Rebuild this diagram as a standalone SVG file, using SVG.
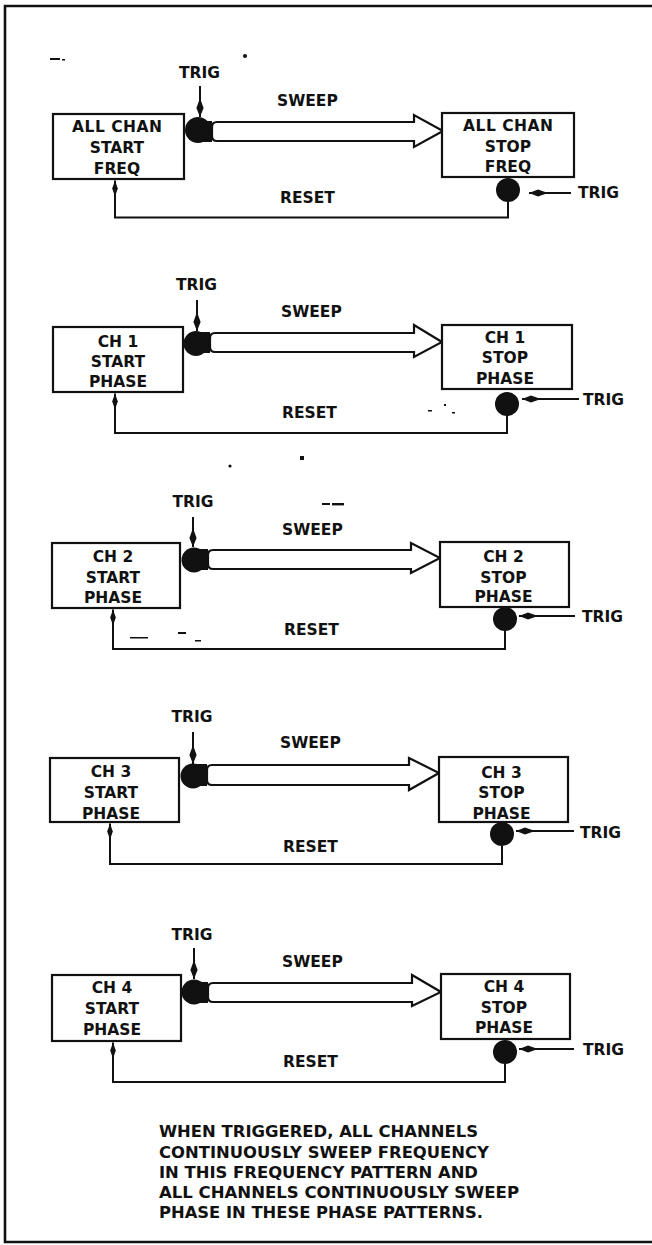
<svg xmlns="http://www.w3.org/2000/svg" width="652" height="1245" viewBox="0 0 652 1245">
<style>
text{font-family:"DejaVu Sans","Liberation Sans",sans-serif;font-weight:bold;fill:#111;}
.lbl{font-size:15.5px;}
.bx{font-size:15.5px;text-anchor:middle;}
.tt{font-size:15.5px;text-anchor:middle;}
.note{font-size:16px;}
.box{fill:#fff;stroke:#111;stroke-width:2.2;}
.dot{fill:#111;}
.shaft{fill:#fff;stroke:#111;stroke-width:2.2;stroke-linejoin:miter;}
.wire{fill:none;stroke:#111;stroke-width:2;}
.frame{fill:none;stroke:#111;stroke-width:2.6;}
</style>
<defs>
<marker id="spin" markerUnits="userSpaceOnUse" viewBox="-22 -5 24 10" refX="0" refY="0" markerWidth="24" markerHeight="10" orient="auto">
<path d="M0,0 L-9,-3.6 L-19,0 L-9,3.6 Z" fill="#111"/>
</marker>
<marker id="spinS" markerUnits="userSpaceOnUse" viewBox="-18 -5 20 10" refX="0" refY="0" markerWidth="20" markerHeight="10" orient="auto">
<path d="M0,0 L-8,-2.8 L-16,0 L-8,2.8 Z" fill="#111"/>
</marker>
</defs>

<g id="frame">
<path class="frame" d="M652,6 H5 V1242 H652"/>
</g>

<g id="specks" fill="#111">
<rect x="50" y="58" width="10" height="2"/><rect x="62" y="59" width="3" height="1.5"/>
<circle cx="245" cy="56" r="2"/>
<circle cx="230" cy="466" r="1.6"/><rect x="300" y="456" width="4" height="4"/>
<rect x="322" y="503" width="8" height="2"/><rect x="332" y="503" width="12" height="2.4"/>
<rect x="428" y="410" width="4" height="1.5"/><rect x="444" y="404" width="2" height="2"/><rect x="452" y="412" width="3" height="1.5"/>
<rect x="130" y="637" width="18" height="1.5"/><rect x="178" y="632" width="8" height="2"/><rect x="195" y="640" width="6" height="1.5"/>
</g>

<g id="connectors">
<!-- block 1 -->
<line class="wire" x1="200" y1="86" x2="200" y2="117" marker-end="url(#spin)"/>
<line class="wire" x1="571" y1="193" x2="529" y2="193" marker-end="url(#spin)"/>
<polyline class="wire" points="508,202 508,217.5 115,217.5 115,180.5" marker-end="url(#spinS)"/>
<!-- block 2 -->
<line class="wire" x1="197" y1="300" x2="197" y2="331" marker-end="url(#spin)"/>
<line class="wire" x1="579" y1="399" x2="522" y2="399" marker-end="url(#spin)"/>
<polyline class="wire" points="507,416 507,433 115,433 115,393.5" marker-end="url(#spinS)"/>
<!-- block 3 -->
<line class="wire" x1="193" y1="517" x2="193" y2="547" marker-end="url(#spin)"/>
<line class="wire" x1="575" y1="616" x2="519" y2="616" marker-end="url(#spin)"/>
<polyline class="wire" points="505,631 505,649 113,649 113,609.5" marker-end="url(#spinS)"/>
<!-- block 4 -->
<line class="wire" x1="193" y1="732" x2="193" y2="764" marker-end="url(#spin)"/>
<line class="wire" x1="574" y1="831" x2="516" y2="831" marker-end="url(#spin)"/>
<polyline class="wire" points="502,846 502,864 110,864 110,823.5" marker-end="url(#spinS)"/>
<!-- block 5 -->
<line class="wire" x1="194" y1="948" x2="194" y2="979" marker-end="url(#spin)"/>
<line class="wire" x1="574" y1="1049" x2="519" y2="1049" marker-end="url(#spin)"/>
<polyline class="wire" points="505,1064 505,1082 113,1082 113,1042.5" marker-end="url(#spinS)"/>

<!-- sweep arrows -->
<rect class="dot" x="198" y="121" width="14" height="21"/>
<path class="shaft" d="M217,122 H414 V115 L443,131 L414,147 V141 H217 Q212,141 212,136 V127 Q212,122 217,122 Z"/>
<rect class="dot" x="196" y="332" width="14" height="21"/>
<path class="shaft" d="M215,333 H414 V325 L442,342 L414,357 V352 H215 Q210,352 210,347 V338 Q210,333 215,333 Z"/>
<rect class="dot" x="194" y="549" width="14" height="21"/>
<path class="shaft" d="M213,550 H411 V543 L440,558 L411,573 V569 H213 Q208,569 208,564 V555 Q208,550 213,550 Z"/>
<rect class="dot" x="193" y="764" width="14" height="22"/>
<path class="shaft" d="M212,765 H409 V758 L439,773 L409,790 V785 H212 Q207,785 207,780 V770 Q207,765 212,765 Z"/>
<rect class="dot" x="194" y="982" width="14" height="21"/>
<path class="shaft" d="M213,983 H412 V975 L441,992 L412,1006 V1002 H213 Q208,1002 208,997 V988 Q208,983 213,983 Z"/>
</g>

<g id="b1">
<g id="b1-start"><rect class="box" x="53" y="114" width="131" height="65"/>
<text class="bx" x="117" y="132" textLength="90" lengthAdjust="spacing">ALL CHAN</text><text class="bx" x="117" y="153">START</text><text class="bx" x="117" y="174">FREQ</text></g>
<circle class="dot" cx="198" cy="130" r="13"/>
<g id="b1-stop"><rect class="box" x="442" y="113" width="132" height="64"/>
<text class="bx" x="508" y="131" textLength="90" lengthAdjust="spacing">ALL CHAN</text><text class="bx" x="508" y="152">STOP</text><text class="bx" x="508" y="172">FREQ</text></g>
<circle class="dot" cx="508" cy="190" r="12"/>
<text class="tt" x="199.5" y="78">TRIG</text>
<text class="lbl" x="277" y="106">SWEEP</text>
<text class="lbl" x="280" y="203">RESET</text>
<text class="lbl" x="578" y="198">TRIG</text>
</g>

<g id="b2">
<g id="b2-start"><rect class="box" x="53" y="327" width="130" height="65"/>
<text class="bx" x="118" y="347">CH 1</text><text class="bx" x="118" y="367">START</text><text class="bx" x="118" y="387">PHASE</text></g>
<circle class="dot" cx="196" cy="343.5" r="12.5"/>
<g id="b2-stop"><rect class="box" x="442" y="325" width="130" height="64"/>
<text class="bx" x="505" y="343">CH 1</text><text class="bx" x="505" y="363">STOP</text><text class="bx" x="505" y="384">PHASE</text></g>
<circle class="dot" cx="507" cy="404" r="12"/>
<text class="tt" x="196.5" y="290">TRIG</text>
<text class="lbl" x="281" y="317">SWEEP</text>
<text class="lbl" x="282" y="418">RESET</text>
<text class="lbl" x="583" y="405">TRIG</text>
</g>

<g id="b3">
<g id="b3-start"><rect class="box" x="52" y="543" width="128" height="65"/>
<text class="bx" x="113" y="562">CH 2</text><text class="bx" x="113" y="583">START</text><text class="bx" x="113" y="603">PHASE</text></g>
<circle class="dot" cx="194" cy="560" r="12.5"/>
<g id="b3-stop"><rect class="box" x="440" y="542" width="129" height="65"/>
<text class="bx" x="503.5" y="562">CH 2</text><text class="bx" x="503.5" y="583">STOP</text><text class="bx" x="503.5" y="602">PHASE</text></g>
<circle class="dot" cx="505" cy="619" r="12"/>
<text class="tt" x="193" y="507">TRIG</text>
<text class="lbl" x="282" y="535">SWEEP</text>
<text class="lbl" x="284" y="635">RESET</text>
<text class="lbl" x="582" y="622">TRIG</text>
</g>

<g id="b4">
<g id="b4-start"><rect class="box" x="50" y="758" width="129" height="64"/>
<text class="bx" x="111" y="777">CH 3</text><text class="bx" x="111" y="798">START</text><text class="bx" x="111" y="819">PHASE</text></g>
<circle class="dot" cx="193" cy="776" r="12.5"/>
<g id="b4-stop"><rect class="box" x="439" y="757" width="129" height="65"/>
<text class="bx" x="501.5" y="778">CH 3</text><text class="bx" x="501.5" y="798">STOP</text><text class="bx" x="501.5" y="819">PHASE</text></g>
<circle class="dot" cx="502" cy="834" r="12"/>
<text class="tt" x="192" y="722">TRIG</text>
<text class="lbl" x="280" y="748">SWEEP</text>
<text class="lbl" x="283" y="852">RESET</text>
<text class="lbl" x="580" y="838">TRIG</text>
</g>

<g id="b5">
<g id="b5-start"><rect class="box" x="52" y="975" width="129" height="66"/>
<text class="bx" x="112" y="993">CH 4</text><text class="bx" x="112" y="1014">START</text><text class="bx" x="112" y="1035">PHASE</text></g>
<circle class="dot" cx="194" cy="992" r="12.5"/>
<g id="b5-stop"><rect class="box" x="441" y="974" width="129" height="65"/>
<text class="bx" x="504" y="992">CH 4</text><text class="bx" x="504" y="1013">STOP</text><text class="bx" x="504" y="1033">PHASE</text></g>
<circle class="dot" cx="505" cy="1052" r="12"/>
<text class="tt" x="192" y="940">TRIG</text>
<text class="lbl" x="282" y="967">SWEEP</text>
<text class="lbl" x="283" y="1067">RESET</text>
<text class="lbl" x="583" y="1055">TRIG</text>
</g>

<g id="note">
<text class="note" x="159" y="1137" textLength="319" lengthAdjust="spacingAndGlyphs">WHEN TRIGGERED, ALL CHANNELS</text>
<text class="note" x="159" y="1158" textLength="330" lengthAdjust="spacingAndGlyphs">CONTINUOUSLY SWEEP FREQUENCY</text>
<text class="note" x="159" y="1178" textLength="319" lengthAdjust="spacingAndGlyphs">IN THIS FREQUENCY PATTERN AND</text>
<text class="note" x="159" y="1198" textLength="360" lengthAdjust="spacingAndGlyphs">ALL CHANNELS CONTINUOUSLY SWEEP</text>
<text class="note" x="159" y="1218" textLength="324" lengthAdjust="spacingAndGlyphs">PHASE IN THESE PHASE PATTERNS.</text>
</g>
</svg>
